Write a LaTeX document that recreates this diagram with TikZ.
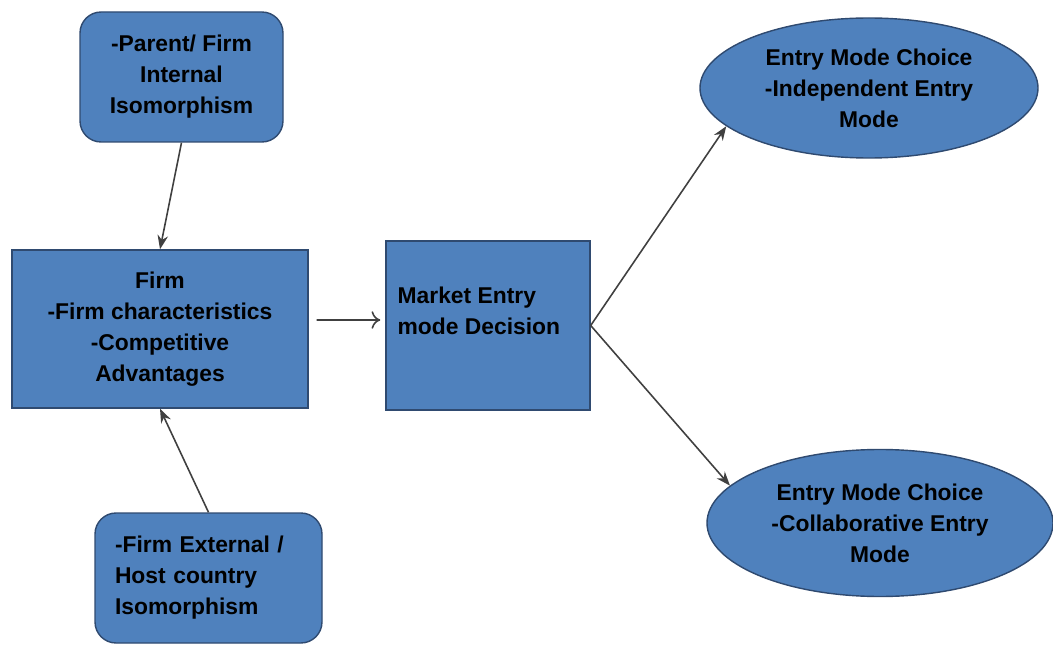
\documentclass[tikz,border=0pt]{standalone}
\usepackage{fontspec}
\setmainfont{Liberation Sans}
\usepackage{tikz}
\usetikzlibrary{positioning,arrows.meta,shapes.geometric}

\definecolor{boxblue}{HTML}{4F81BD}
\definecolor{boxedge}{HTML}{2F4A70}
\definecolor{arrowgrey}{HTML}{404040}

\begin{document}
\begin{tikzpicture}[font=\fontsize{13}{17.6}\selectfont\bfseries]
        \tikzstyle{roundbox}=[draw=boxedge,thick,fill=boxblue,rounded corners=12pt,inner sep=4pt]
        \tikzstyle{sharpbox}=[draw=boxedge,thick,fill=boxblue,inner sep=4pt]
        \tikzstyle{choice}=[draw=boxedge,thick,fill=boxblue,ellipse,inner sep=0pt]
        \tikzstyle{link}=[draw=arrowgrey,line width=0.9pt,-{Stealth[length=8pt,width=6pt]}]

        \useasboundingbox (0,0) rectangle (21.06,12.92);

        \draw (3.63,11.38) node[roundbox,minimum width=4.06cm,minimum height=2.6cm,align=center] (internal) {-Parent/ Firm\\Internal\\Isomorphism};
        \draw (3.20,6.34) node[sharpbox,minimum width=5.92cm,minimum height=3.16cm,align=center] (firm) {Firm\\-Firm characteristics\\-Competitive\\Advantages};
        \draw (4.17,1.36) node[roundbox,minimum width=4.54cm,minimum height=2.6cm,text width=3.74cm,align=left] (external) {-Firm External /\\Host country\\Isomorphism};
        \draw (9.76,6.41) node[sharpbox,minimum width=4.08cm,minimum height=3.38cm] (market) {};
        \draw ([shift={(0.24,-0.92)}]market.north west) node[anchor=north west,align=left,inner sep=0pt] (marketlbl) {Market Entry\\mode Decision};
        \draw (17.38,11.16) node[choice,minimum width=6.76cm,minimum height=2.8cm,align=center] (independent) {Entry Mode Choice\\-Independent Entry\\Mode};
        \draw (17.60,2.46) node[choice,minimum width=6.92cm,minimum height=2.94cm,align=center] (collab) {Entry Mode Choice\\-Collaborative Entry\\Mode};

        \draw[link] (internal.south) -- (firm.north);
        \draw[link] (external.north) -- (firm.south);
        \draw[draw=arrowgrey,line width=0.9pt,-{To[length=5pt,width=10pt]},shorten <=0.16cm,shorten >=0.1cm] ([yshift=0.18cm]firm.east) -- ([yshift=0.11cm]market.west);
        \draw[link] (market.east) -- (independent.195);
        \draw[link] (market.east) -- (collab.166);
    \end{tikzpicture}
\end{document}
